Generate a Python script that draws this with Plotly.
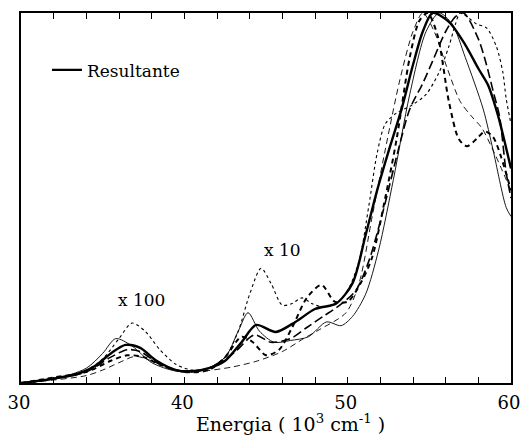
import plotly.graph_objects as go

FONT = "DejaVu Serif"

# Resultante (thick solid)
res_x = [30, 32, 33.5, 34.5, 35.5, 36.4, 37.3, 38.3, 39.5, 40.5, 41.5, 42.5, 43.5, 44.4, 45.6, 46.8, 48, 49.3,
         50.3, 51.1, 51.8, 52.6, 53.3, 54.0, 54.6, 55.2, 56.2, 57.2, 58, 58.6, 59.2, 59.6, 60]
res_y = [0, 0.012, 0.025, 0.045, 0.08, 0.103, 0.095, 0.06, 0.035, 0.032, 0.04, 0.06, 0.11, 0.157, 0.138, 0.165, 0.2, 0.215,
         0.27, 0.40, 0.52, 0.64, 0.74, 0.86, 0.95, 1.0, 0.976, 0.914, 0.85, 0.805, 0.724, 0.654, 0.58]

# thin solid
sol_x = [30, 32, 34, 35, 35.8, 36.8, 38, 39.5, 41, 42.5, 43.3, 43.9, 44.6, 45.5, 46.5, 47.6, 48.7, 49.6, 50.3, 51.1,
         51.9, 52.8, 53.8, 54.8, 55.6, 56.4, 57.2, 58.3, 58.9, 59.7, 60]
sol_y = [0, 0.01, 0.04, 0.08, 0.12, 0.10, 0.055, 0.032, 0.032, 0.07, 0.14, 0.19, 0.14, 0.11, 0.115, 0.125, 0.165, 0.155, 0.18, 0.24,
         0.36, 0.55, 0.78, 0.95, 1.0, 0.97, 0.88, 0.74, 0.63, 0.475, 0.45]

# dotted
dot_x = [30, 32, 34, 35, 36, 36.8, 37.6, 38.5, 39.5, 40.5, 41.5, 42.5, 43.3, 44, 44.7, 45.3, 46.0, 46.6, 47.2, 47.8, 48.5,
         49.3, 50.0, 50.7, 51.3, 51.8, 52.3, 53, 53.9, 54.8, 55.6, 56.2, 56.6, 56.9, 57.9, 58.5, 59.1, 59.5, 59.7, 60]
dot_y = [0, 0.01, 0.035, 0.065, 0.12, 0.162, 0.14, 0.09, 0.05, 0.035, 0.04, 0.07, 0.14, 0.24, 0.31, 0.27, 0.21, 0.215, 0.23, 0.215, 0.205,
         0.215, 0.25, 0.33, 0.48, 0.62, 0.70, 0.73, 0.75, 0.78, 0.84, 0.91, 0.97, 1.0, 0.97, 0.96, 0.91, 0.84, 0.77, 0.70]

# thin dashed
td_x = [30, 32, 34, 35, 36, 37, 38, 39.5, 41, 42.9, 44.5, 46, 47.3, 48.3, 49.9, 50.7, 51.5, 52.3, 53.2, 54, 54.6,
        55.3, 56.1, 56.9, 57.6, 58.2, 59, 60]
td_y = [0, 0.008, 0.02, 0.035, 0.055, 0.072, 0.06, 0.035, 0.032, 0.043, 0.06, 0.085, 0.12, 0.145, 0.19, 0.27, 0.45, 0.63, 0.82, 0.95, 1.0,
        0.95, 0.85, 0.76, 0.72, 0.69, 0.62, 0.52]

# thick short dashed
sd_x = [30, 32, 34, 35.5, 36.5, 37.5, 38.5, 40, 41.5, 42.5, 43.5, 44.2, 45.0, 45.8, 46.6, 47.5, 48.4, 49.2, 50, 50.8,
        51.5, 52.3, 53, 53.8, 54.4, 54.9, 55.5, 56.2, 56.8, 57.3, 57.9, 58.4, 58.9, 59.4, 60]
sd_y = [0, 0.015, 0.03, 0.06, 0.075, 0.07, 0.05, 0.03, 0.035, 0.07, 0.125, 0.11, 0.075, 0.09, 0.15, 0.23, 0.265, 0.22, 0.22, 0.27,
        0.34, 0.5, 0.66, 0.88, 0.98, 1.0, 0.94, 0.76, 0.66, 0.64, 0.66, 0.68, 0.665, 0.61, 0.52]

# medium long dashed
ld_x = [30, 32, 34, 35.5, 36.5, 37.3, 38.5, 40, 41.5, 43, 44.3, 45.3, 46.5, 47.5, 48.5, 49.5, 50.5, 51.3, 52.2, 53.1,
        53.8, 54.6, 55.2, 56.0, 56.6, 57.1, 58, 58.5, 58.9, 59.3, 59.7, 60]
ld_y = [0, 0.012, 0.03, 0.07, 0.09, 0.085, 0.05, 0.03, 0.04, 0.08, 0.13, 0.11, 0.12, 0.15, 0.18, 0.21, 0.25, 0.33, 0.47, 0.63,
        0.74, 0.81, 0.87, 0.95, 0.99, 1.0, 0.93, 0.86, 0.79, 0.72, 0.57, 0.5]

tick_vals = list(range(30, 61, 2))
tick_text = ["30", "", "", "", "", "40", "", "", "", "", "50", "", "", "", "", "60"]

fig = go.Figure()

def add(x, y, width, dash, name, show=False):
    fig.add_trace(go.Scatter(x=x, y=y, mode="lines", name=name, showlegend=show,
                             line=dict(color="black", width=width, dash=dash, shape="spline", smoothing=0.8)))

add(td_x, td_y, 0.9, "6px,4px", "td")
add(sol_x, sol_y, 0.9, "solid", "sol")
add(dot_x, dot_y, 1.1, "dot", "dot")
add(ld_x, ld_y, 1.6, "9px,4px", "ld")
add(sd_x, sd_y, 2.0, "5px,4px", "sd")
add(res_x, res_y, 2.4, "solid", "Resultante", True)

fig.update_layout(
    width=522, height=439,
    margin=dict(l=21, r=11, t=13, b=56, autoexpand=False),
    paper_bgcolor="white", plot_bgcolor="white",
    font=dict(family=FONT, size=18, color="black"),
    showlegend=True,
    legend=dict(x=0.053, y=0.845, xanchor="left", yanchor="middle", bgcolor="rgba(0,0,0,0)",
                font=dict(family=FONT, size=17, color="black"), itemwidth=30),
    xaxis=dict(range=[30, 60], tickvals=tick_vals, ticktext=tick_text, ticks="inside", ticklen=6,
               tickwidth=1.2, tickcolor="black", showline=True, linecolor="black", linewidth=1.5,
               mirror="ticks", showgrid=False, zeroline=False, ticklabelshift=-2, ticklabelstandoff=3,
               automargin=False, tickfont=dict(family=FONT, size=18, color="black")),
    yaxis=dict(range=[0, 1.0], showticklabels=False, ticks="", showline=True, linecolor="black",
               linewidth=1.5, mirror=True, showgrid=False, zeroline=False, automargin=False),
    annotations=[
        dict(x=37.35, y=0.224, xref="x", yref="y", text="x 100", showarrow=False,
             font=dict(family=FONT, size=17, color="black")),
        dict(x=46.0, y=0.36, xref="x", yref="y", text="x 10", showarrow=False,
             font=dict(family=FONT, size=17, color="black")),
        dict(x=0.55, y=-0.108, xref="paper", yref="paper", yanchor="middle",
             text="Energia ( 10<sup>3</sup> cm<sup>-1</sup> )",
             showarrow=False, font=dict(family=FONT, size=19, color="black")),
    ],
)

fig.write_html("out.html", config={"displayModeBar": False},
               post_script="document.body.style.margin='0';document.body.style.overflow='hidden';")
